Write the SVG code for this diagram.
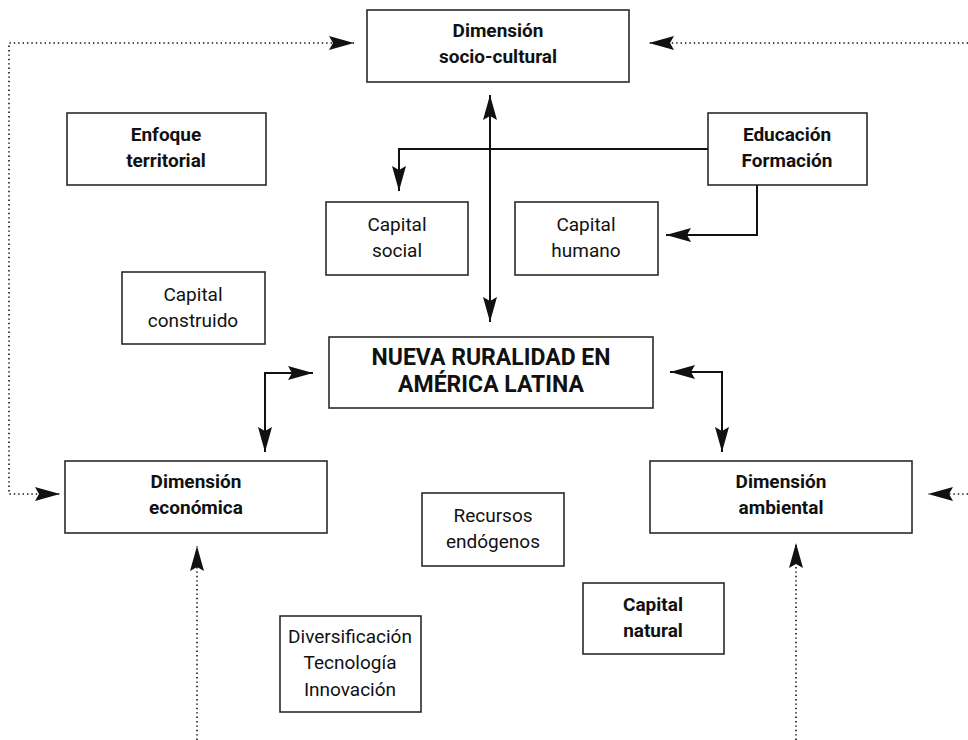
<svg xmlns="http://www.w3.org/2000/svg" width="968" height="740" viewBox="0 0 968 740">
<defs>
<style>
.box{fill:#fff;stroke:#2a2a2a;stroke-width:1.6}
.t{font-family:Roboto,"Liberation Sans",sans-serif;font-size:19px;fill:#111;text-anchor:middle}
.b{font-weight:bold}
.big{font-size:23px}
.sol{fill:none;stroke:#111;stroke-width:2}
.dot{fill:none;stroke:#111;stroke-width:1.6;stroke-dasharray:1.4 3}
</style>
<marker id="ah" markerUnits="userSpaceOnUse" markerWidth="28" markerHeight="16" refX="25" refY="7.5" orient="auto-start-reverse" viewBox="0 0 28 16">
<path d="M0,0.5 L25,7.5 L0,14.5 L4,7.5 Z" fill="#111"/>
</marker>
</defs>
<rect width="968" height="740" fill="#fff"/>
<g id="connectors">
<path class="dot" d="M354,43 H9 V494 H60" marker-start="url(#ah)" marker-end="url(#ah)"/>
<path class="dot" d="M968,43 H649" marker-end="url(#ah)"/>
<path class="dot" d="M968,494 H928" marker-end="url(#ah)"/>
<path class="dot" d="M197,740 V546" marker-end="url(#ah)"/>
<path class="dot" d="M796,740 V543" marker-end="url(#ah)"/>
<path class="sol" d="M490,95 V322" marker-start="url(#ah)" marker-end="url(#ah)"/>
<path class="sol" d="M708,149 H399 V191" marker-end="url(#ah)"/>
<path class="sol" d="M757,185 V235 H666" marker-end="url(#ah)"/>
<path class="sol" d="M313,373 H265 V452" marker-start="url(#ah)" marker-end="url(#ah)"/>
<path class="sol" d="M670,372 H722 V452" marker-start="url(#ah)" marker-end="url(#ah)"/>
</g>
<g id="socio"><rect class="box" x="367" y="10" width="262" height="72"/><text class="t b" x="498" y="37">Dimensión</text><text class="t b" x="498" y="63">socio-cultural</text></g>
<g id="enfoque"><rect class="box" x="67" y="113" width="199" height="72"/><text class="t b" x="166" y="141">Enfoque</text><text class="t b" x="166" y="167">territorial</text></g>
<g id="educacion"><rect class="box" x="708" y="113" width="159" height="72"/><text class="t b" x="787" y="141">Educación</text><text class="t b" x="787" y="167">Formación</text></g>
<g id="capsocial"><rect class="box" x="326" y="202" width="142" height="73"/><text class="t" x="397" y="231">Capital</text><text class="t" x="397" y="257">social</text></g>
<g id="caphumano"><rect class="box" x="515" y="202" width="143" height="73"/><text class="t" x="586" y="231">Capital</text><text class="t" x="586" y="257">humano</text></g>
<g id="capconstruido"><rect class="box" x="122" y="272" width="143" height="72"/><text class="t" x="193" y="301">Capital</text><text class="t" x="193" y="327">construido</text></g>
<g id="nueva"><rect class="box" x="329" y="337" width="324" height="71"/><text class="t b big" x="491" y="365">NUEVA RURALIDAD EN</text><text class="t b big" x="491" y="392">AMÉRICA LATINA</text></g>
<g id="economica"><rect class="box" x="65" y="461" width="262" height="72"/><text class="t b" x="196" y="488">Dimensión</text><text class="t b" x="196" y="514">económica</text></g>
<g id="ambiental"><rect class="box" x="650" y="461" width="262" height="72"/><text class="t b" x="781" y="488">Dimensión</text><text class="t b" x="781" y="514">ambiental</text></g>
<g id="recursos"><rect class="box" x="422" y="493" width="142" height="73"/><text class="t" x="493" y="522">Recursos</text><text class="t" x="493" y="548">endógenos</text></g>
<g id="capnatural"><rect class="box" x="583" y="583" width="141" height="71"/><text class="t b" x="653" y="611">Capital</text><text class="t b" x="653" y="637">natural</text></g>
<g id="diversificacion"><rect class="box" x="280" y="616" width="141" height="96"/><text class="t" x="350" y="643">Diversificación</text><text class="t" x="350" y="669">Tecnología</text><text class="t" x="350" y="696">Innovación</text></g>
</svg>
